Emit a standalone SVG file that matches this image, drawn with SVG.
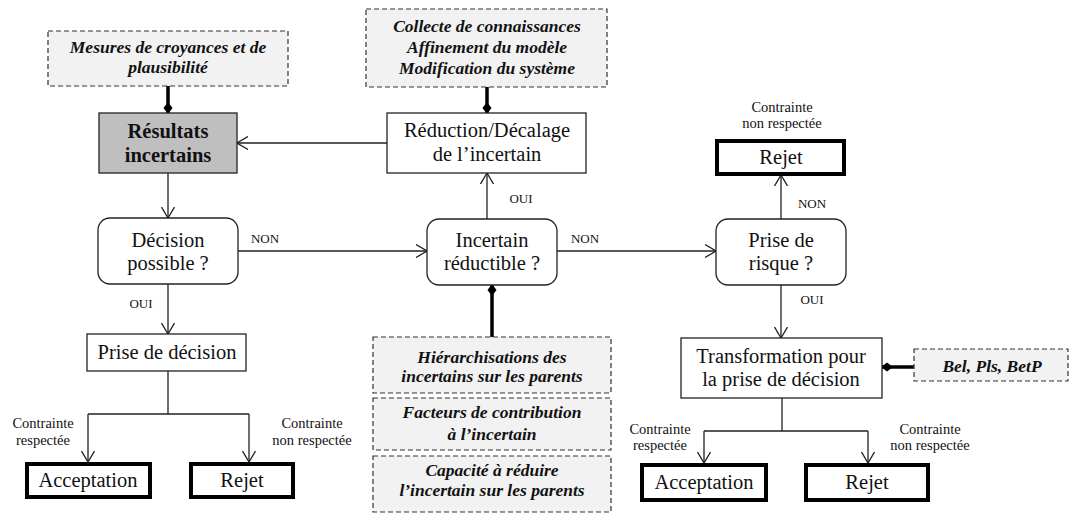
<svg xmlns="http://www.w3.org/2000/svg" width="1071" height="513" viewBox="0 0 1071 513">
<style>
text{font-family:"Liberation Serif","DejaVu Serif",serif;fill:#111;text-anchor:middle}
.m{font-size:20.5px}
.b{font-weight:bold}
.note{font-size:17.5px;font-weight:bold;font-style:italic}
.lab{font-size:13px}
.con{font-size:14.5px}
.box{fill:#fff;stroke:#222;stroke-width:1.3}
.thick{fill:#fff;stroke:#000;stroke-width:4}
.dash{fill:#f2f2f2;stroke:#333;stroke-width:1.2;stroke-dasharray:5,3}
.ln{fill:none;stroke:#222;stroke-width:1.3}
.arr{fill:none;stroke:#222;stroke-width:1.3;marker-end:url(#ah)}
.link{fill:none;stroke:#000;stroke-width:3.5;marker-end:url(#dm)}
</style>
<defs>
<marker id="ah" markerUnits="userSpaceOnUse" viewBox="0 0 12 14" refX="11" refY="7" markerWidth="12" markerHeight="14" orient="auto">
<path d="M0,0.5 L11,7 L0,13.5" fill="none" stroke="#222" stroke-width="1.3"/>
</marker>
<marker id="dm" markerUnits="userSpaceOnUse" viewBox="0 0 12 10" refX="11" refY="5" markerWidth="12" markerHeight="10" orient="auto">
<path d="M0,5 L6,0.5 L12,5 L6,9.5 Z" fill="#000"/>
</marker>
</defs>

<g id="connectors">
<path class="arr" d="M387,143 H237"/>
<path class="arr" d="M168,173 V218"/>
<path class="arr" d="M238,251 H427"/>
<path class="arr" d="M557,251 H716"/>
<path class="arr" d="M487,219 V173"/>
<path class="arr" d="M781,219 V175"/>
<path class="arr" d="M168,284 V334"/>
<path class="arr" d="M781,285 V338"/>
<path class="ln" d="M168,371 V414 M88,414 H249"/>
<path class="arr" d="M88,414 V462"/>
<path class="arr" d="M249,414 V462"/>
<path class="ln" d="M782,398 V431 M704,431 H868"/>
<path class="arr" d="M704,431 V463"/>
<path class="arr" d="M868,431 V463"/>
<path class="link" d="M168,86 V113"/>
<path class="link" d="M487,87 V113"/>
<path class="link" d="M492,337 V285"/>
<path class="link" d="M914,367 H882"/>
<text class="lab" x="265" y="243">NON</text>
<text class="lab" x="585" y="243">NON</text>
<text class="lab" x="812" y="208">NON</text>
<text class="lab" x="141" y="308">OUI</text>
<text class="lab" x="521" y="203">OUI</text>
<text class="lab" x="812" y="304">OUI</text>
<text class="con" x="43" y="428">Contrainte</text>
<text class="con" x="43" y="445">respectée</text>
<text class="con" x="312" y="428">Contrainte</text>
<text class="con" x="312" y="445">non respectée</text>
<text class="con" x="782" y="112">Contrainte</text>
<text class="con" x="782" y="128">non respectée</text>
<text class="con" x="660" y="434">Contrainte</text>
<text class="con" x="660" y="450">respectée</text>
<text class="con" x="930" y="434">Contrainte</text>
<text class="con" x="930" y="450">non respectée</text>
</g>

<g id="mesures">
<rect class="dash" x="48" y="31" width="240" height="55"/>
<text class="note" x="168" y="53">Mesures de croyances et de</text>
<text class="note" x="168" y="73">plausibilité</text>
</g>
<g id="collecte">
<rect class="dash" x="366" y="9" width="241" height="78"/>
<text class="note" x="487" y="32">Collecte de connaissances</text>
<text class="note" x="487" y="53">Affinement du modèle</text>
<text class="note" x="487" y="74">Modification du système</text>
</g>
<g id="resultats">
<rect x="99" y="113" width="138" height="60" fill="#bfbfbf" stroke="#222" stroke-width="1.3"/>
<text class="m b" x="168" y="138">Résultats</text>
<text class="m b" x="168" y="162">incertains</text>
</g>
<g id="reduction">
<rect class="box" x="387" y="113" width="199" height="60"/>
<text class="m" x="487" y="137">Réduction/Décalage</text>
<text class="m" x="487" y="161">de l’incertain</text>
</g>
<g id="decision-possible">
<rect class="box" x="98" y="218" width="140" height="66" rx="12"/>
<text class="m" x="168" y="247">Décision</text>
<text class="m" x="168" y="270">possible ?</text>
</g>
<g id="incertain-reductible">
<rect class="box" x="427" y="219" width="130" height="66" rx="12"/>
<text class="m" x="492" y="247">Incertain</text>
<text class="m" x="492" y="270">réductible ?</text>
</g>
<g id="prise-risque">
<rect class="box" x="716" y="219" width="130" height="66" rx="12"/>
<text class="m" x="781" y="247">Prise de</text>
<text class="m" x="781" y="270">risque ?</text>
</g>
<g id="rejet-top">
<rect class="thick" x="717" y="141" width="127" height="33"/>
<text class="m" x="781" y="164">Rejet</text>
</g>
<g id="prise-decision">
<rect class="box" x="87" y="334" width="159" height="37"/>
<text class="m" x="167" y="359">Prise de décision</text>
</g>
<g id="acceptation1">
<rect class="thick" x="27" y="464" width="123" height="33"/>
<text class="m" x="88" y="487">Acceptation</text>
</g>
<g id="rejet1">
<rect class="thick" x="191" y="464" width="102" height="33"/>
<text class="m" x="242" y="487">Rejet</text>
</g>
<g id="hierarchisation">
<rect class="dash" x="373" y="337" width="238" height="56"/>
<text class="note" x="492" y="363">Hiérarchisations des</text>
<text class="note" x="492" y="382">incertains sur les parents</text>
</g>
<g id="facteurs">
<rect class="dash" x="373" y="398" width="238" height="52"/>
<text class="note" x="492" y="418">Facteurs de contribution</text>
<text class="note" x="492" y="440">à l’incertain</text>
</g>
<g id="capacite">
<rect class="dash" x="373" y="456" width="238" height="56"/>
<text class="note" x="492" y="476">Capacité à réduire</text>
<text class="note" x="492" y="496">l’incertain sur les parents</text>
</g>
<g id="transformation">
<rect class="box" x="681" y="338" width="201" height="60"/>
<text class="m" x="781" y="363">Transformation pour</text>
<text class="m" x="781" y="386">la prise de décision</text>
</g>
<g id="bel">
<rect class="dash" x="914" y="349" width="154" height="32"/>
<text class="note" x="992" y="372">Bel, Pls, BetP</text>
</g>
<g id="acceptation2">
<rect class="thick" x="642" y="465" width="124" height="35"/>
<text class="m" x="704" y="489">Acceptation</text>
</g>
<g id="rejet2">
<rect class="thick" x="806" y="465" width="122" height="35"/>
<text class="m" x="867" y="489">Rejet</text>
</g>
</svg>
